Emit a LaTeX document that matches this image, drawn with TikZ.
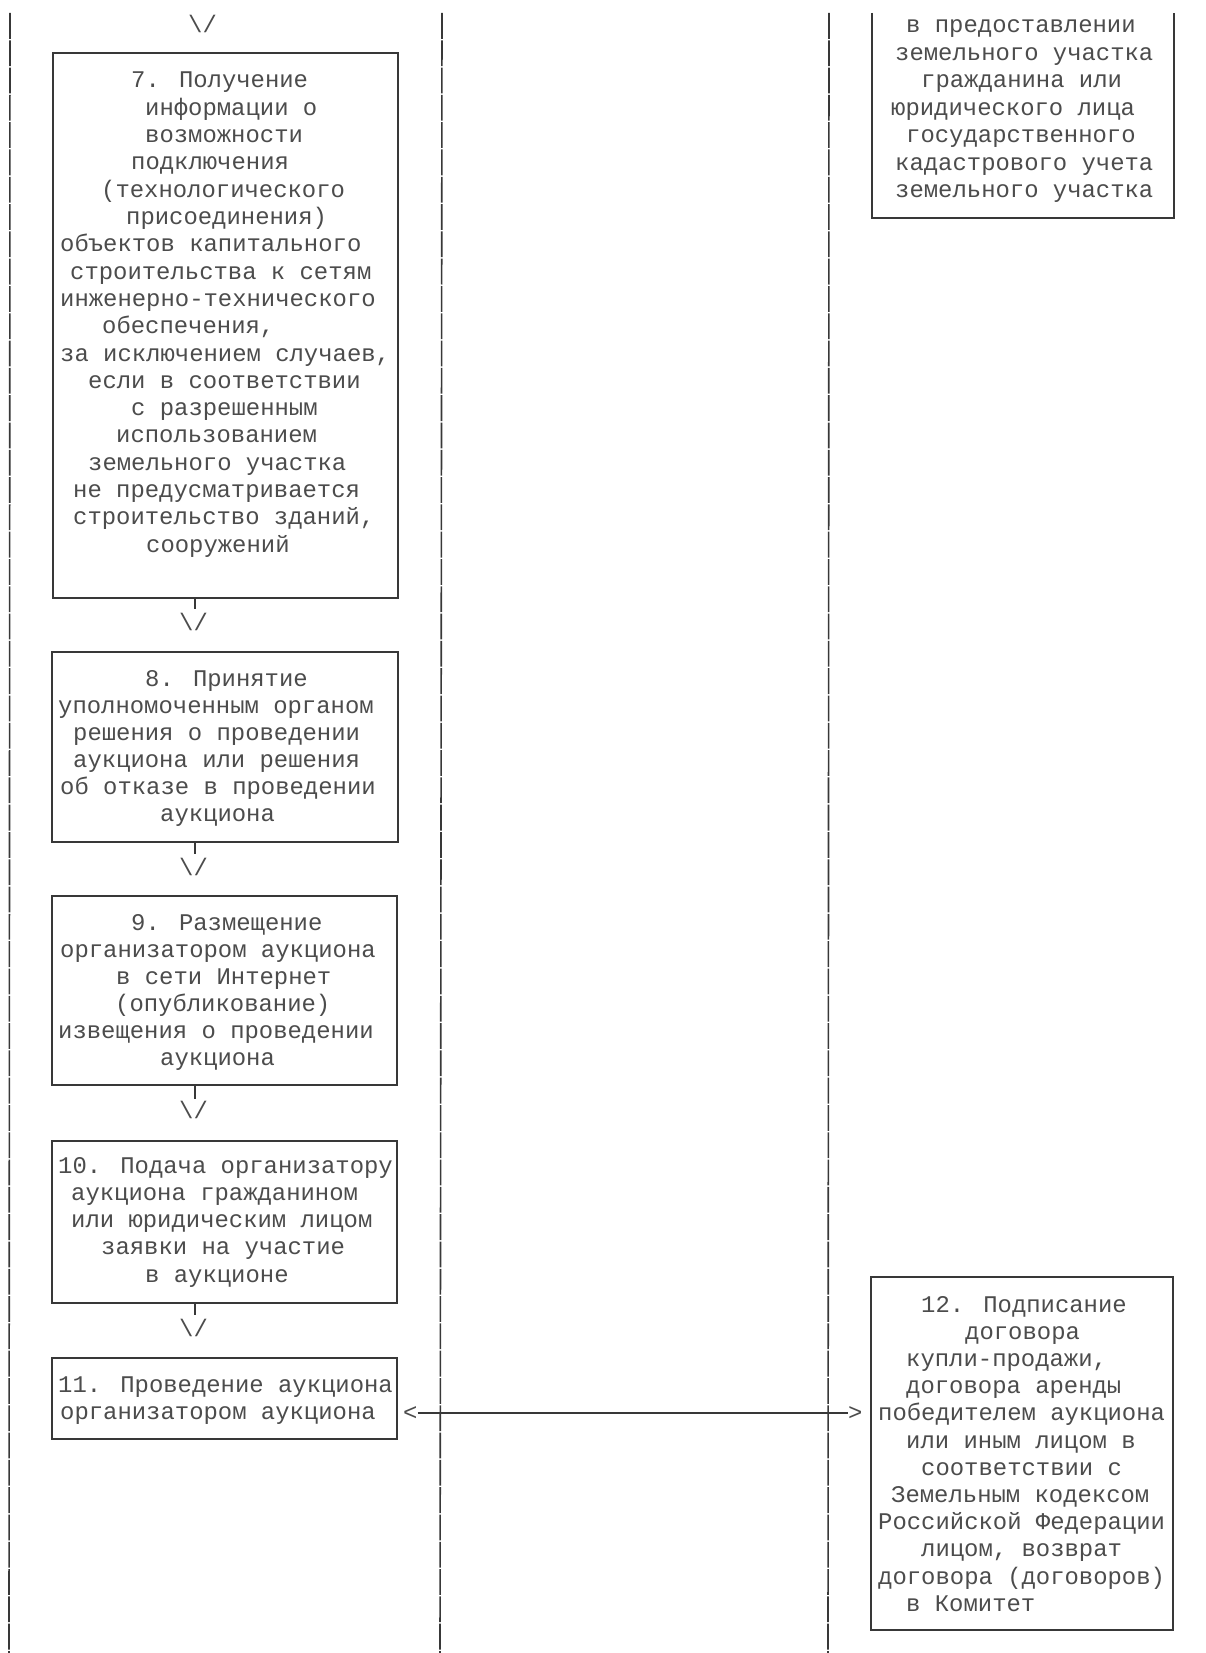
\documentclass[tikz,border=0pt]{standalone}
\usepackage{fontspec}
\newfontfamily\monof{Liberation Mono}
\definecolor{inkline}{gray}{0.22}
\definecolor{inktext}{gray}{0.30}
\tikzset{
  boxst/.style={draw=inkline, line width=1.6pt, inner sep=0pt, outer sep=0pt},
  lane/.style={draw=inkline, line width=1.6pt, dash pattern=on 25.8pt off 1.5pt},
  txt/.style={font=\monof\fontsize{23.9}{27}\selectfont, text=inktext, inner sep=0pt, anchor=base west},
  tick/.style={draw=inkline, line width=1.5pt}
}
\newcommand\tl[4]{\node[txt] (#1) at (#2-2,#3) {#4};}
\begin{document}
\begin{tikzpicture}[x=1pt,y=-1pt]
\useasboundingbox (0,0) rectangle (1205,1653);
\fill[white] (0,0) rectangle (1205,1653);
% lanes
\draw[lane] (10,13) -- (9,1653);
\draw[lane] (442,13) -- (440,1653);
\draw[lane] (829,13) -- (828,1653);

% box 6 (partial, top right)
\draw[boxst] (872,13) -- (872,218) -- (1174,218) -- (1174,13);
\coordinate (b6) at (1023,218);
\tl{t6a}{908}{33}{в предоставлении}
\tl{t6b}{897}{60.5}{земельного участка}
\tl{t6c}{923}{88}{гражданина или}
\tl{t6d}{893}{115.5}{юридического лица}
\tl{t6e}{908}{143}{государственного}
\tl{t6f}{897}{170.5}{кадастрового учета}
\tl{t6g}{897}{198}{земельного участка}

% top arrow
\node[txt] (a0) at (188,33) {\textbackslash/};

% box 7
\node[boxst, anchor=north west, minimum width=345, minimum height=545] (b7) at (53,53) {};
\tl{t7a}{133}{88}{7. Получение}
\tl{t7b}{147}{115.3}{информации о}
\tl{t7c}{147}{142.6}{возможности}
\tl{t7d}{133}{169.9}{подключения}
\tl{t7e}{103}{197.2}{(технологического}
\tl{t7f}{128}{224.5}{присоединения)}
\tl{t7g}{62}{251.8}{объектов капитального}
\tl{t7h}{72}{279.1}{строительства к сетям}
\tl{t7i}{62}{306.4}{инженерно-технического}
\tl{t7j}{104}{333.7}{обеспечения,}
\tl{t7k}{62}{361}{за исключением случаев,}
\tl{t7l}{90}{388.3}{если в соответствии}
\tl{t7m}{133}{415.6}{с разрешенным}
\tl{t7n}{118}{442.9}{использованием}
\tl{t7o}{90}{470.2}{земельного участка}
\tl{t7p}{75}{497.5}{не предусматривается}
\tl{t7q}{75}{524.8}{строительство зданий,}
\tl{t7r}{148}{552.1}{сооружений}

% arrow 7 -> 8
\coordinate (k78) at (195,609);
\draw[tick] (b7.south -| k78) -- (k78);
\node[txt] (a78) at (179,630) {\textbackslash/};

% box 8
\node[boxst, anchor=north west, minimum width=346, minimum height=190] (b8) at (52,652) {};
\tl{t8a}{147}{686.5}{8. Принятие}
\tl{t8b}{60}{713.5}{уполномоченным органом}
\tl{t8c}{75}{740.5}{решения о проведении}
\tl{t8d}{75}{767.5}{аукциона или решения}
\tl{t8e}{62}{794.5}{об отказе в проведении}
\tl{t8f}{162}{821.5}{аукциона}

% arrow 8 -> 9
\coordinate (k89) at (195,854);
\draw[tick] (b8.south -| k89) -- (k89);
\node[txt] (a89) at (179,875) {\textbackslash/};

% box 9
\node[boxst, anchor=north west, minimum width=345, minimum height=189] (b9) at (52,896) {};
\tl{t9a}{133}{930}{9. Размещение}
\tl{t9b}{62}{957}{организатором аукциона}
\tl{t9c}{118}{984}{в сети Интернет}
\tl{t9d}{117}{1011}{(опубликование)}
\tl{t9e}{60}{1038}{извещения о проведении}
\tl{t9f}{162}{1065}{аукциона}

% arrow 9 -> 10
\coordinate (k910) at (195,1099);
\draw[tick] (b9.south -| k910) -- (k910);
\node[txt] (a910) at (179,1118) {\textbackslash/};

% box 10
\node[boxst, anchor=north west, minimum width=345, minimum height=162] (b10) at (52,1141) {};
\tl{t10a}{60}{1173}{10. Подача организатору}
\tl{t10b}{73}{1200.3}{аукциона гражданином}
\tl{t10c}{73}{1227.6}{или юридическим лицом}
\tl{t10d}{103}{1254.9}{заявки на участие}
\tl{t10e}{147}{1282.2}{в аукционе}

% arrow 10 -> 11
\coordinate (k1011) at (195,1315);
\draw[tick] (b10.south -| k1011) -- (k1011);
\node[txt] (a1011) at (179,1336) {\textbackslash/};

% box 11
\node[boxst, anchor=north west, minimum width=345, minimum height=81] (b11) at (52,1358) {};
\tl{t11a}{60}{1392}{11. Проведение аукциона}
\tl{t11b}{62}{1419}{организатором аукциона}

% box 12
\node[boxst, anchor=north west, minimum width=302, minimum height=353] (b12) at (871,1277) {};
\tl{t12a}{923}{1312}{12. Подписание}
\tl{t12b}{967}{1339.2}{договора}
\tl{t12c}{908}{1366.4}{купли-продажи,}
\tl{t12d}{908}{1393.6}{договора аренды}
\tl{t12e}{880}{1420.8}{победителем аукциона}
\tl{t12f}{908}{1448}{или иным лицом в}
\tl{t12g}{923}{1475.2}{соответствии с}
\tl{t12h}{893}{1502.4}{Земельным кодексом}
\tl{t12i}{880}{1529.6}{Российской Федерации}
\tl{t12j}{923}{1556.8}{лицом, возврат}
\tl{t12k}{880}{1584}{договора (договоров)}
\tl{t12l}{908}{1611.2}{в Комитет}

% two-way connector 11 <-> 12
\node[txt] (lt) at (403,1420) {<};
\node[txt] (gt) at (848,1420) {>};
\draw[tick] (lt.east |- 0,1413) -- (gt.west |- 0,1413);
\end{tikzpicture}
\end{document}
